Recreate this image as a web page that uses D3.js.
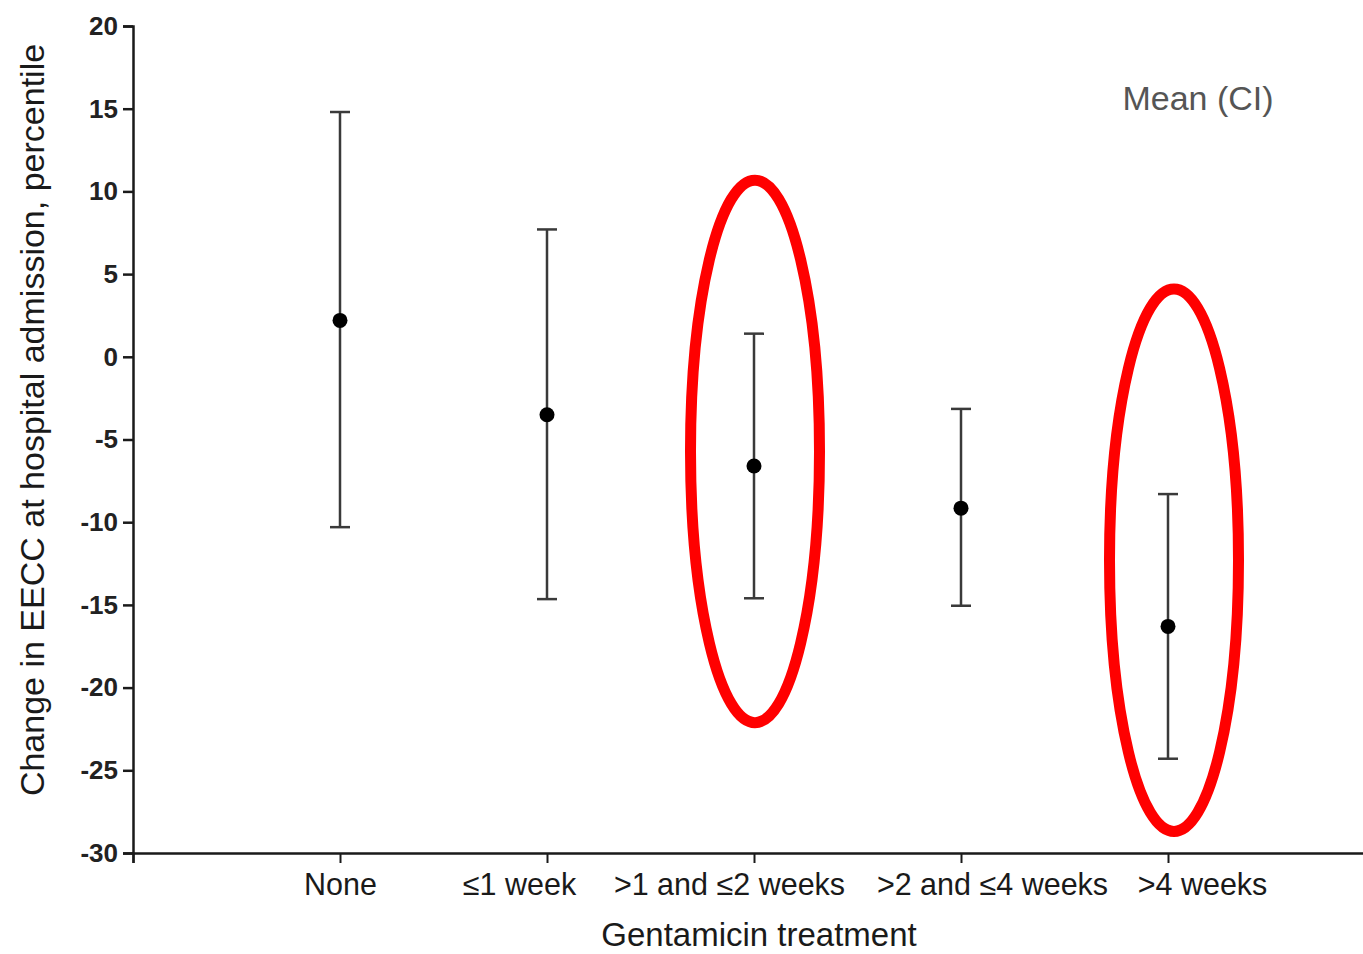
<!DOCTYPE html>
<html>
<head>
<meta charset="utf-8">
<script src="https://cdn.jsdelivr.net/npm/d3@7/dist/d3.min.js"></script>
<style>
  html, body { margin: 0; padding: 0; background: #fff; }
  svg { display: block; }
  text { font-family: "Liberation Sans", Arial, Helvetica, sans-serif; }
</style>
</head>
<body>
<svg id="chart" width="1363" height="954"></svg>
<script>
// Gentamicin treatment groups and change in EECC (mean with confidence interval)
const categories = ["None", "\u22641 week", ">1 and \u22642 weeks", ">2 and \u22644 weeks", ">4 weeks"];
const means = [2.2, -3.5, -6.6, -9.15, -16.3];
const ciLower = [-10.3, -14.65, -14.6, -15.05, -24.3];
const ciUpper = [14.8, 7.7, 1.4, -3.15, -8.3];
const yTicks = [20, 15, 10, 5, 0, -5, -10, -15, -20, -25, -30];

// Highlighted groups: category index, centre value and half-height (percentile units)
const highlightCategory = [2, 4];
const highlightCenter = [-5.72, -12.3];
const highlightHalfSpan = [16.4, 16.4];

const svg = d3.select("#chart");

// Slot positions along the x axis: 0 is the y axis, categories sit at 1..5
const x = d3.scaleLinear().domain([0, 6]).range([133, 1375]);
const y = d3.scaleLinear().domain([-30, 20]).range([853, 26]);

const axisColor = "#1a1a1a";
const barColor = "#3a3a3a";

// Y axis
const yAxis = svg.append("g")
  .attr("transform", `translate(${x(0)},0)`)
  .call(d3.axisLeft(y).tickValues(yTicks).tickSize(10).tickPadding(5).tickFormat(d => String(d)));
yAxis.select(".domain").attr("stroke", axisColor).attr("stroke-width", 2.5);
yAxis.selectAll(".tick line").attr("stroke", axisColor).attr("stroke-width", 2.5);
yAxis.selectAll(".tick text")
  .attr("fill", "#222")
  .attr("font-size", 26)
  .attr("font-weight", "bold");

// X axis
const xAxis = svg.append("g")
  .attr("transform", `translate(0,${y(-30)})`)
  .call(d3.axisBottom(x).tickValues([0, 1, 2, 3, 4, 5]).tickSize(10).tickPadding(10)
    .tickFormat(i => i >= 1 && i <= categories.length ? categories[i - 1] : ""));
xAxis.select(".domain").attr("stroke", axisColor).attr("stroke-width", 2.5);
xAxis.selectAll(".tick line").attr("stroke", axisColor).attr("stroke-width", 2);
// long labels are nudged sideways so neighbours do not collide
const labelShift = { 1: 0, 2: -28, 3: -25, 4: 31, 5: 34 };
xAxis.selectAll(".tick text")
  .attr("fill", "#1a1a1a")
  .attr("font-size", 30.5)
  .attr("dx", d => labelShift[d] || 0);

// Axis titles
svg.append("text")
  .attr("x", 759).attr("y", 946)
  .attr("text-anchor", "middle")
  .attr("font-size", 33)
  .attr("fill", "#1a1a1a")
  .text("Gentamicin treatment");

svg.append("text")
  .attr("transform", `translate(44,420) rotate(-90)`)
  .attr("text-anchor", "middle")
  .attr("font-size", 34)
  .attr("fill", "#1a1a1a")
  .text("Change in EECC at hospital admission, percentile");

// Legend note
svg.append("text")
  .attr("x", 1198).attr("y", 110)
  .attr("text-anchor", "middle")
  .attr("font-size", 34)
  .attr("fill", "#555")
  .text("Mean (CI)");

// Error bars
const groups = categories.map((c, i) => ({ i, mean: means[i], lo: ciLower[i], hi: ciUpper[i] }));
const bars = svg.append("g").selectAll("g").data(groups).join("g");
const capHalf = 10;

bars.append("line")
  .attr("x1", d => x(d.i + 1)).attr("x2", d => x(d.i + 1))
  .attr("y1", d => y(d.hi)).attr("y2", d => y(d.lo))
  .attr("stroke", barColor).attr("stroke-width", 2.5);
bars.append("line")
  .attr("x1", d => x(d.i + 1) - capHalf).attr("x2", d => x(d.i + 1) + capHalf)
  .attr("y1", d => y(d.hi)).attr("y2", d => y(d.hi))
  .attr("stroke", barColor).attr("stroke-width", 2.5);
bars.append("line")
  .attr("x1", d => x(d.i + 1) - capHalf).attr("x2", d => x(d.i + 1) + capHalf)
  .attr("y1", d => y(d.lo)).attr("y2", d => y(d.lo))
  .attr("stroke", barColor).attr("stroke-width", 2.5);
bars.append("circle")
  .attr("cx", d => x(d.i + 1)).attr("cy", d => y(d.mean))
  .attr("r", 7.5)
  .attr("fill", "#000");

// Red ellipses around highlighted groups
const highlights = highlightCategory.map((c, k) => ({ c, cy: highlightCenter[k], half: highlightHalfSpan[k] }));
svg.append("g").selectAll("ellipse").data(highlights).join("ellipse")
  .attr("cx", (d, k) => x(d.c + 1) + (k === 0 ? 1 : 6))
  .attr("cy", d => y(d.cy))
  .attr("rx", 64.5)
  .attr("ry", d => y(d.cy - d.half) - y(d.cy))
  .attr("fill", "none")
  .attr("stroke", "#ff0000")
  .attr("stroke-width", 11);
</script>
</body>
</html>
